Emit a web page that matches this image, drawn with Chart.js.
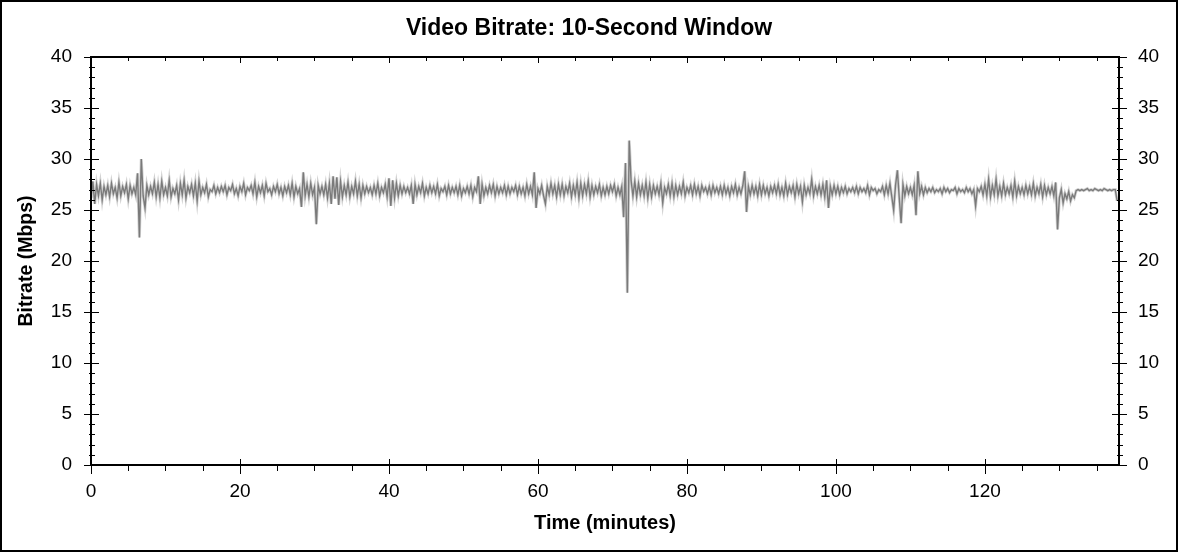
<!DOCTYPE html>
<html><head><meta charset="utf-8">
<script src="https://cdn.jsdelivr.net/npm/chart.js@4.4.1/dist/chart.umd.min.js"></script>
<style>html,body{margin:0;padding:0;background:#fff}canvas{display:block}</style>
</head><body>
<canvas id="c" width="1178" height="552"></canvas>
<script>
const chartTitle = 'Video Bitrate: 10-Second Window';
const xAxisTitle = 'Time (minutes)';
const yAxisTitle = 'Bitrate (Mbps)';
const sampleStepMinutes = 0.25;
const xMin = 0, xMax = 138;
const yMin = 0, yMax = 40;
const xTickValues = [0, 20, 40, 60, 80, 100, 120];
const yTickValues = [0, 5, 10, 15, 20, 25, 30, 35, 40];
const xMinorStep = 5;
const yMinorStep = 1;

const bitrateMbps = [
  // 0-10 min
  26.2, 27.8, 25.6, 27.5, 26.4, 27.6, 26.0, 27.3, 26.5, 27.4, 26.3, 27.6, 26.6, 27.2, 26.2, 27.7, 26.4, 27.3, 26.7, 27.5,
  26.1, 27.4, 26.6, 27.2, 26.5, 28.6, 22.3, 30.0, 26.4, 25.2, 27.4, 26.5, 27.3, 26.6, 27.7, 26.3, 27.5, 26.2, 27.8, 26.5,
  // 10-20
  27.2, 26.4, 27.9, 26.3, 27.1, 26.6, 27.4, 26.0, 27.6, 26.5, 27.9, 26.2, 27.3, 26.7, 27.5, 26.4, 27.6, 25.9, 27.8, 26.5,
  27.2, 26.7, 27.5, 26.3, 27.0, 26.8, 27.4, 26.6, 27.2, 26.7, 27.3, 26.8, 27.4, 26.5, 27.2, 26.9, 27.5, 26.6, 27.1, 26.4,
  // 20-30
  27.3, 26.8, 27.6, 26.5, 27.2, 26.9, 27.4, 26.6, 27.7, 26.3, 27.3, 26.7, 27.4, 26.4, 27.6, 26.8, 27.1, 26.5, 27.3, 26.8,
  27.5, 26.6, 27.2, 26.4, 27.3, 26.7, 27.4, 26.5, 27.6, 26.3, 27.3, 26.6, 27.1, 25.3, 28.7, 26.4, 27.5, 26.3, 27.6, 26.5,
  // 30-40
  27.2, 23.6, 27.4, 26.6, 27.3, 26.5, 27.5, 26.2, 27.6, 25.6, 28.3, 26.1, 28.2, 25.5, 27.8, 26.3, 27.4, 26.5, 27.7, 26.3,
  27.3, 26.6, 27.8, 26.4, 27.5, 26.2, 27.4, 26.6, 27.3, 26.7, 27.2, 26.5, 27.4, 26.6, 27.6, 26.4, 27.2, 26.7, 27.5, 26.3,
  // 40-50
  28.1, 25.4, 27.9, 26.2, 27.6, 26.4, 27.4, 26.6, 27.3, 26.7, 27.2, 26.6, 27.4, 25.6, 27.5, 26.5, 27.3, 26.7, 27.6, 26.4,
  27.2, 26.6, 27.4, 26.7, 27.3, 26.6, 27.5, 26.4, 27.1, 26.8, 27.3, 26.5, 27.4, 26.6, 27.2, 26.7, 27.3, 26.5, 27.4, 26.4,
  // 50-60
  27.1, 26.7, 27.3, 26.6, 27.4, 26.3, 27.2, 26.8, 28.3, 25.6, 27.5, 26.4, 27.2, 26.6, 27.4, 26.7, 27.5, 26.4, 27.3, 26.6,
  27.2, 26.7, 27.4, 26.5, 27.3, 26.6, 27.2, 26.8, 27.4, 26.5, 27.3, 26.6, 27.2, 26.4, 27.5, 26.6, 27.3, 26.5, 28.7, 25.2,
  // 60-70
  27.1, 26.6, 27.4, 26.4, 25.6, 27.3, 26.5, 27.6, 26.6, 27.4, 26.3, 27.5, 26.5, 27.5, 26.4, 27.3, 26.7, 27.6, 26.3, 27.4,
  26.5, 27.7, 26.2, 27.6, 26.4, 27.5, 26.6, 27.8, 26.3, 27.4, 26.5, 27.3, 26.7, 27.5, 26.4, 27.2, 26.5, 27.3, 26.6, 27.4,
  // 70-80
  26.8, 27.5, 26.4, 27.2, 26.5, 27.3, 24.3, 29.6, 16.9, 31.8, 27.9, 26.4, 27.8, 26.3, 27.6, 26.5, 27.4, 26.4, 27.7, 26.2,
  27.5, 26.3, 27.4, 26.6, 27.3, 26.5, 27.6, 25.7, 27.2, 26.6, 27.5, 26.4, 27.6, 26.3, 27.4, 26.5, 27.3, 26.6, 27.7, 26.4,
  // 80-90
  27.2, 26.7, 27.4, 26.5, 27.5, 26.6, 27.3, 26.4, 27.4, 26.8, 27.2, 26.6, 27.3, 26.5, 27.4, 26.7, 27.2, 26.6, 27.3, 26.5,
  27.4, 26.6, 27.2, 26.4, 27.3, 26.7, 27.5, 26.5, 27.2, 26.6, 27.4, 28.8, 24.8, 27.3, 26.5, 27.4, 26.6, 27.3, 26.4, 27.5,
  // 90-100
  26.5, 27.4, 26.6, 27.2, 26.4, 27.3, 26.7, 27.4, 26.6, 27.5, 26.5, 27.2, 26.4, 27.6, 26.5, 27.3, 26.7, 27.4, 26.3, 27.5,
  26.6, 27.3, 25.8, 27.4, 26.5, 27.2, 26.6, 28.0, 26.4, 27.3, 26.6, 27.4, 26.5, 27.5, 26.3, 27.9, 25.2, 27.3, 26.5, 27.4,
  // 100-110
  26.6, 27.3, 26.5, 27.2, 26.7, 27.3, 26.6, 27.1, 26.8, 27.2, 26.7, 27.3, 26.6, 27.2, 26.8, 27.1, 26.7, 27.4, 26.5, 27.2,
  26.9, 27.1, 26.6, 27.0, 26.8, 27.3, 26.5, 27.4, 26.6, 27.6, 26.3, 25.0, 27.4, 28.9, 26.2, 23.7, 27.5, 26.4, 27.3, 26.6,
  // 110-120
  27.2, 26.5, 27.4, 24.5, 28.8, 26.6, 27.3, 26.5, 27.2, 26.7, 27.1, 26.8, 27.2, 26.7, 27.0, 26.8, 27.1, 26.6, 27.2, 26.8,
  27.1, 26.7, 27.0, 26.9, 27.2, 26.6, 27.1, 26.8, 27.0, 26.7, 27.2, 26.8, 27.1, 26.6, 27.0, 25.4, 27.1, 26.8, 27.3, 26.5,
  // 120-130
  27.5, 26.4, 28.0, 26.3, 27.4, 26.5, 28.0, 26.4, 27.3, 26.4, 27.6, 26.5, 27.2, 26.6, 27.4, 26.3, 27.8, 26.4, 27.3, 26.6,
  27.2, 26.5, 27.4, 26.6, 27.3, 26.5, 27.6, 26.4, 27.2, 26.6, 27.5, 26.3, 27.4, 26.5, 27.2, 26.6, 27.3, 26.4, 27.7, 23.1,
  // 130-138
  26.2, 27.0, 25.7, 26.6, 26.1, 26.8, 25.9, 26.5, 26.2, 26.9, 27.0, 26.9, 27.0, 26.9, 27.0, 27.1, 26.9, 27.0, 26.9, 27.1,
  27.0, 26.9, 27.0, 26.9, 27.1, 27.0, 26.9, 27.0, 26.9, 27.0, 27.0, 25.9
];

const points = bitrateMbps.map((v, i) => ({ x: i * sampleStepMinutes, y: v }));
const FONT = '"Liberation Sans", Arial, sans-serif';

const framePlugin = {
  id: 'frameTicks',
  afterDraw(chart) {
    const ctx = chart.ctx;
    const ca = chart.chartArea;
    const xs = chart.scales.x, ys = chart.scales.y;
    const W = chart.width, H = chart.height;
    ctx.save();
    ctx.fillStyle = '#000';
    ctx.fillRect(0, 0, W, 2);
    ctx.fillRect(0, H - 2, W, 2);
    ctx.fillRect(0, 0, 2, H);
    ctx.fillRect(W - 2, 0, 2, H);
    const L = Math.round(ca.left), R = Math.round(ca.right), T = Math.round(ca.top), B = Math.round(ca.bottom);
    ctx.fillRect(L - 1, T - 1, 2, B - T + 2);
    ctx.fillRect(R - 1, T - 1, 2, B - T + 2);
    ctx.fillRect(L - 1, T - 1, R - L + 2, 2);
    ctx.fillRect(L - 1, B - 1, R - L + 2, 2);
    for (let v = yMin; v <= yMax + 1e-9; v += yMinorStep) {
      const py = Math.round(ys.getPixelForValue(v));
      if (yTickValues.includes(v)) {
        ctx.fillRect(L - 7, py, 15, 1);
        ctx.fillRect(R - 7, py, 15, 1);
      } else {
        ctx.fillRect(L - 2, py, 6, 1);
        ctx.fillRect(R - 2, py, 6, 1);
      }
    }
    for (let v = xMin; v <= xMax + 1e-9; v += xMinorStep) {
      const px = Math.round(xs.getPixelForValue(v));
      if (xTickValues.includes(v)) {
        ctx.fillRect(px, T, 1, 6);
        ctx.fillRect(px, B - 6, 1, 15);
      } else {
        ctx.fillRect(px, T, 1, 4);
        ctx.fillRect(px, B + 1, 1, 5);
      }
    }
    ctx.restore();
  }
};

new Chart(document.getElementById('c'), {
  type: 'line',
  data: {
    datasets: [
      { data: points, borderColor: '#7a7a7a', borderWidth: 1.4, pointRadius: 0, tension: 0, order: 1 },
      { data: points, borderColor: '#d2d2d2', borderWidth: 3, pointRadius: 0, tension: 0, order: 2 }
    ]
  },
  options: {
    responsive: false,
    animation: false,
    devicePixelRatio: 1,
    layout: { padding: 0 },
    plugins: {
      legend: { display: false },
      tooltip: { enabled: false },
      title: {
        display: true, text: chartTitle, color: '#000',
        font: { family: FONT, size: 23, weight: 'bold', lineHeight: 1.2 },
        padding: { top: 15, bottom: 14.4 }
      }
    },
    scales: {
      x: {
        type: 'linear', position: 'bottom', min: xMin, max: xMax,
        afterBuildTicks: s => { s.ticks = xTickValues.map(v => ({ value: v })); },
        afterFit: s => { s.height = 87; },
        grid: { display: false, drawTicks: false },
        border: { display: false },
        ticks: { color: '#000', font: { family: FONT, size: 19 }, padding: 15, maxRotation: 0, autoSkip: false },
        title: { display: true, text: xAxisTitle, color: '#000', font: { family: FONT, size: 20, weight: 'bold', lineHeight: 1.2 }, padding: { top: 0, bottom: 17 } }
      },
      y: {
        type: 'linear', position: 'left', min: yMin, max: yMax,
        afterBuildTicks: s => { s.ticks = yTickValues.map(v => ({ value: v })); },
        afterFit: s => { s.width = 91; },
        grid: { display: false, drawTicks: false },
        border: { display: false },
        ticks: { color: '#000', font: { family: FONT, size: 19 }, padding: 19, autoSkip: false },
        title: { display: true, text: yAxisTitle, color: '#000', font: { family: FONT, size: 19.5, weight: 'bold', lineHeight: 1.2 }, padding: { top: 15, bottom: 0 } }
      },
      y2: {
        type: 'linear', position: 'right', min: yMin, max: yMax,
        afterBuildTicks: s => { s.ticks = yTickValues.map(v => ({ value: v })); },
        afterFit: s => { s.width = 59; },
        grid: { display: false, drawTicks: false },
        border: { display: false },
        ticks: { color: '#000', font: { family: FONT, size: 19 }, padding: 19, autoSkip: false }
      }
    }
  },
  plugins: [framePlugin]
});
</script>
</body></html>
